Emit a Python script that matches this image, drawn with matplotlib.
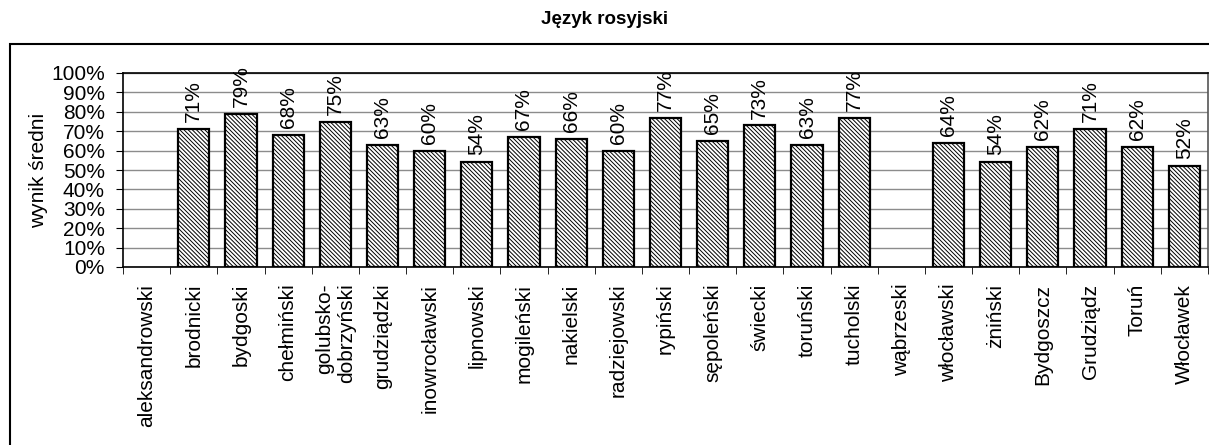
import numpy as np
import matplotlib
matplotlib.use("Agg")
import matplotlib.pyplot as plt
from matplotlib.patches import Rectangle
from matplotlib.ticker import PercentFormatter, MultipleLocator

plt.rcParams['font.family'] = ['Liberation Sans', 'DejaVu Sans']
plt.rcParams['hatch.linewidth'] = 0.7

title = "Język rosyjski"
ylabel = "wynik średni"
categories = [
    "aleksandrowski", "brodnicki", "bydgoski", "chełmiński",
    "golubsko-\ndobrzyński", "grudziądzki", "inowrocławski", "lipnowski",
    "mogileński", "nakielski", "radziejowski", "rypiński", "sępoleński",
    "świecki", "toruński", "tucholski", "wąbrzeski", "włocławski",
    "żniński", "Bydgoszcz", "Grudziądz", "Toruń", "Włocławek",
]
values = [
    np.nan, 71, 79, 68, 75, 63, 60, 54, 67, 66, 60, 77, 65,
    73, 63, 77, np.nan, 64, 54, 62, 71, 62, 52,
]

W, H = 1209, 445
fs = 15
fig = plt.figure(figsize=(W / 100, H / 100), dpi=100)
ax = fig.add_axes([123 / W, 178 / H, (1208 - 123) / W, (372 - 178) / H])

# outer chart frame (right and bottom edges fall outside the picture)
fig.patches.append(Rectangle((10 / W, -0.05), 1.2, (445 - 44) / H + 0.05,
                             transform=fig.transFigure, fill=False,
                             edgecolor='black', linewidth=1.5))

x = np.arange(len(categories))
ax.bar(x, values, width=0.66, color='white', edgecolor='black',
       linewidth=1.6, hatch='\\' * 8, zorder=3)

for xi, v in zip(x, values):
    if np.isnan(v):
        continue
    ax.text(xi, v + 3.5, f"{v:.0f}%", rotation=90, ha='center', va='bottom',
            fontsize=fs, clip_on=False)

ax.set_xlim(-0.5, len(categories) - 0.5)
ax.set_ylim(0, 100)
ax.yaxis.set_major_locator(MultipleLocator(10))
ax.yaxis.set_major_formatter(PercentFormatter(decimals=0))
ax.tick_params(axis='y', labelsize=fs, direction='out', length=5, pad=8)
ax.set_ylabel(ylabel, fontsize=fs, labelpad=2)

ax.set_xticks(x)
ax.set_xticklabels(categories, rotation=90, fontsize=fs, ha='center',
                   va='top', multialignment='right')
ax.set_xticks(np.arange(len(categories) + 1) - 0.5, minor=True)
ax.tick_params(axis='x', which='major', length=0, pad=12)
ax.tick_params(axis='x', which='minor', length=5, direction='out')

ax.yaxis.grid(True, color='#8c8c8c', linewidth=1, zorder=0)
ax.set_axisbelow(True)
for s in ['left', 'bottom', 'top', 'right']:
    ax.spines[s].set_linewidth(1.2)
ax.spines['right'].set_color('#555555')

fig.text(0.5, 1 - 20 / H, title, ha='center', va='center', fontsize=13.5,
         fontweight='bold')

fig.savefig("out.png", dpi=100)
